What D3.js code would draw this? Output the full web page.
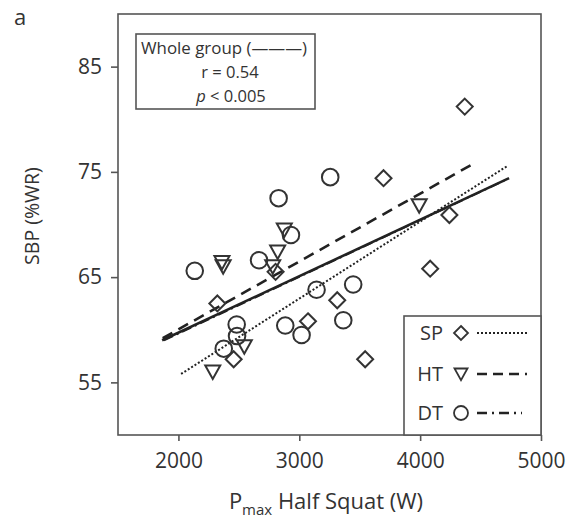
<!DOCTYPE html>
<html>
<head>
<meta charset="utf-8">
<script src="https://cdn.jsdelivr.net/npm/d3@7"></script>
<style>
body { margin: 0; background: #fff; }
text { font-family: "Open Sans", "Noto Sans", sans-serif; fill: #333; }
</style>
</head>
<body>
<svg width="567" height="521"></svg>
<script>
// SP (diamonds)
var spX = [4369, 3697, 4242, 4083, 2804, 2322, 3314, 3072, 2457, 3545];
var spY = [81.2, 74.4, 70.9, 65.8, 65.5, 62.5, 62.8, 60.8, 57.2, 57.2];
// HT (down triangles)
var htX = [3992, 2876, 2821, 2360, 2370, 2780, 2545, 2284];
var htY = [71.8, 69.5, 67.4, 66.4, 66.0, 66.0, 58.4, 56.0];
// DT (circles)
var dtX = [3256, 2829, 2931, 2667, 2135, 3446, 3143, 2482, 2884, 3364, 3019, 2485, 2375];
var dtY = [74.5, 72.5, 69.0, 66.6, 65.6, 64.3, 63.8, 60.5, 60.4, 60.9, 59.5, 59.4, 58.2];

// regression lines, [start, end]
var dtLineX = [1880, 4720], dtLineY = [59.0, 74.3];
var spLineX = [2022, 4727], spLineY = [55.8, 75.6];
var htLineX = [1870, 4460], htLineY = [59.2, 75.9];
var allLineX = [1865, 4736], allLineY = [59.0, 74.4];

var xTicks = [2000, 3000, 4000, 5000];
var yTicks = [55, 65, 75, 85];

var svg = d3.select("svg");
var ink = "#333";

var x = d3.scaleLinear().domain([1500, 5000]).range([118, 541]);
var y = d3.scaleLinear().domain([50, 90]).range([435, 14]);

// frame
svg.append("rect")
  .attr("x", 118).attr("y", 14)
  .attr("width", 423).attr("height", 421)
  .attr("fill", "none").attr("stroke", "#555").attr("stroke-width", 1.6);

var xAxis = svg.append("g")
  .attr("transform", "translate(0,435)")
  .call(d3.axisBottom(x).tickValues(xTicks).tickSize(6).tickPadding(12).tickFormat(d3.format("d")));
var yAxis = svg.append("g")
  .attr("transform", "translate(118,0)")
  .call(d3.axisLeft(y).tickValues(yTicks).tickSize(7).tickPadding(9));
[xAxis, yAxis].forEach(function(a) {
  a.select(".domain").remove();
  a.selectAll("line").attr("stroke", "#555").attr("stroke-width", 1.6);
  a.selectAll("text").attr("font-size", 21).style("font-family", "'Open Sans', sans-serif").attr("fill", ink);
});

svg.append("text").attr("x", 14).attr("y", 25).attr("font-size", 22).text("a");

svg.append("text")
  .attr("transform", "translate(39,216) rotate(-90)")
  .attr("text-anchor", "middle").attr("font-size", 19.5)
  .text("SBP (%WR)");

var xl = svg.append("text").attr("x", 326).attr("y", 509)
  .attr("text-anchor", "middle").attr("font-size", 22);
xl.append("tspan").text("P");
xl.append("tspan").attr("font-size", 15).attr("dy", 6).text("max");
xl.append("tspan").attr("dy", -6).text(" Half Squat (W)");

// lines
function fitLine(xs, ys, dash, w) {
  svg.append("line")
    .attr("x1", x(xs[0])).attr("y1", y(ys[0]))
    .attr("x2", x(xs[1])).attr("y2", y(ys[1]))
    .attr("stroke", "#222").attr("stroke-width", w)
    .attr("stroke-dasharray", dash);
}
fitLine(dtLineX, dtLineY, "10,4,2,4", 2);
fitLine(spLineX, spLineY, "2,2", 2);
fitLine(htLineX, htLineY, "11,7", 2.6);
fitLine(allLineX, allLineY, null, 2.6);

// markers
function diamond(s) { return "M0," + (-s) + "L" + s + ",0L0," + s + "L" + (-s) + ",0Z"; }
function triDown(s) { return "M" + (-s) + "," + (-s * 0.85) + "L" + s + "," + (-s * 0.85) + "L0," + (s * 0.95) + "Z"; }

function markers(xs, ys, kind) {
  var g = svg.append("g");
  xs.forEach(function(v, i) {
    var cx = x(v), cy = y(ys[i]);
    var m;
    if (kind == "circle") m = g.append("circle").attr("cx", cx).attr("cy", cy).attr("r", 8.3);
    else m = g.append("path").attr("transform", "translate(" + cx + "," + cy + ")")
      .attr("d", kind == "diamond" ? diamond(8) : triDown(7.5));
    m.attr("fill", "none").attr("stroke", ink).attr("stroke-width", 2);
  });
}
markers(dtX, dtY, "circle");
markers(htX, htY, "tri");
markers(spX, spY, "diamond");

// stats box
var sb = svg.append("g");
sb.append("rect").attr("x", 136).attr("y", 34).attr("width", 179).attr("height", 75)
  .attr("fill", "#fff").attr("stroke", "#555").attr("stroke-width", 1.6);
sb.append("text").attr("x", 141).attr("y", 54).attr("font-size", 16.5).attr("textLength", 166)
  .attr("lengthAdjust", "spacingAndGlyphs")
  .text("Whole group (\u2014\u2014\u2014)");
sb.append("text").attr("x", 230).attr("y", 78).attr("font-size", 16.5).attr("text-anchor", "middle")
  .text("r = 0.54");
var pt = sb.append("text").attr("x", 231).attr("y", 102).attr("font-size", 16.5).attr("text-anchor", "middle");
pt.append("tspan").attr("font-style", "italic").text("p");
pt.append("tspan").text(" < 0.005");

// legend
var lg = svg.append("g");
lg.append("rect").attr("x", 404).attr("y", 316).attr("width", 137).attr("height", 119)
  .attr("fill", "#fff").attr("stroke", "#555").attr("stroke-width", 1.6);
var legendRows = [
  {name: "SP", kind: "diamond", dash: "2,2", yy: 333},
  {name: "HT", kind: "tri", dash: "10,6", yy: 374},
  {name: "DT", kind: "circle", dash: "10,5,2,5", yy: 413}
];
legendRows.forEach(function(r) {
  lg.append("text").attr("x", 443).attr("y", r.yy + 7).attr("text-anchor", "end")
    .attr("font-size", 20).text(r.name);
  var m;
  if (r.kind == "circle") m = lg.append("circle").attr("cx", 461).attr("cy", r.yy).attr("r", 7);
  else m = lg.append("path").attr("transform", "translate(461," + r.yy + ")")
    .attr("d", r.kind == "diamond" ? diamond(7) : triDown(6.5));
  m.attr("fill", "none").attr("stroke", ink).attr("stroke-width", 1.8);
  lg.append("line").attr("x1", 477).attr("x2", r.kind == "circle" ? 522 : 527)
    .attr("y1", r.yy).attr("y2", r.yy)
    .attr("stroke", "#222").attr("stroke-width", r.kind == "diamond" ? 2 : 2.6)
    .attr("stroke-dasharray", r.dash);
});
</script>
</body>
</html>
